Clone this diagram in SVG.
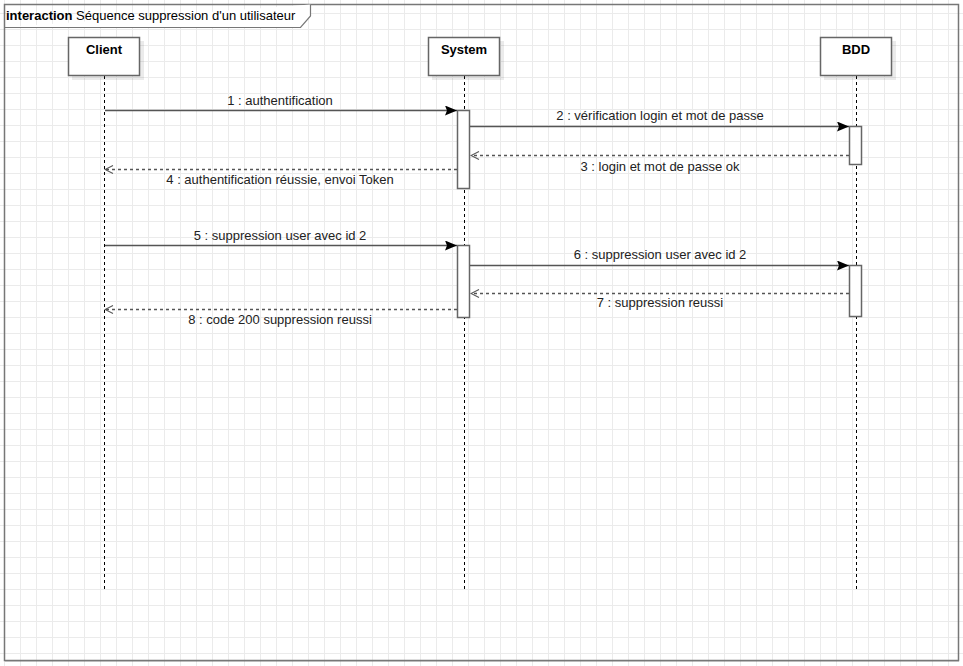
<svg xmlns="http://www.w3.org/2000/svg" width="963" height="666" viewBox="0 0 963 666">
  <style>
    .lbl { font-family: "Liberation Sans", Arial, sans-serif; font-size: 13px; fill: #222; text-anchor: middle; }
    .head { font-family: "Liberation Sans", Arial, sans-serif; font-size: 13px; font-weight: bold; fill: #000; text-anchor: middle; }
    .box { fill: #fff; stroke: #666; stroke-width: 1.5; }
    .shadow { fill: #000; opacity: 0.08; }
    .life { stroke: #000; stroke-width: 1; stroke-dasharray: 3 3; fill: none; }
    .act { fill: #fff; stroke: #666; stroke-width: 1.5; }
    .call { stroke: #555; stroke-width: 1.3; fill: none; marker-end: url(#solid); }
    .ret { stroke: #555; stroke-width: 1.3; stroke-dasharray: 3 3; fill: none; marker-end: url(#open); }
  </style>
  <defs>
    <pattern id="grid" patternUnits="userSpaceOnUse" x="4" y="13" width="16" height="16">
      <path d="M0.5 0 V16 M0 0.5 H16" stroke="#ebebeb" stroke-width="1" fill="none"/>
    </pattern>
    <marker id="solid" viewBox="0 0 12 10" refX="12" refY="5" markerWidth="12" markerHeight="10" markerUnits="userSpaceOnUse" orient="auto">
      <path d="M0 0 L12 5 L0 10 L2 5 Z" fill="#000"/>
    </marker>
    <marker id="open" viewBox="0 0 10 10" refX="9" refY="5" markerWidth="10" markerHeight="10" markerUnits="userSpaceOnUse" orient="auto">
      <path d="M1 1 L9 5 L1 9" fill="none" stroke="#555" stroke-width="1.1"/>
    </marker>
  </defs>

  <!-- background grid -->
  <rect width="963" height="666" fill="#fff"/>
  <rect width="963" height="666" fill="url(#grid)"/>

  <!-- interaction frame -->
  <g id="frame">
    <rect x="4.5" y="4.5" width="954" height="656" fill="none" stroke="#777" stroke-width="1.5"/>
    <line x1="5" y1="661.5" x2="959" y2="661.5" stroke="#000" stroke-opacity="0.15" stroke-width="1"/>
    <path d="M4.5 27.5 H300.5 L310.5 16 V4.5" fill="#fff" stroke="#777" stroke-width="1.2"/>
    <text x="6" y="20" font-family="Liberation Sans, Arial, sans-serif" font-size="13px" fill="#000"><tspan font-weight="bold">interaction</tspan> Séquence suppression d'un utilisateur</text>
  </g>

  <!-- lifelines -->
  <g id="lifeline-client">
    <line class="life" x1="104.5" y1="76" x2="104.5" y2="589"/>
    <rect class="shadow" x="72" y="41" width="72" height="39"/>
    <rect class="box" x="68.5" y="37.5" width="71" height="38"/>
    <text class="head" x="104" y="54">Client</text>
  </g>
  <g id="lifeline-system">
    <line class="life" x1="464.5" y1="76" x2="464.5" y2="589"/>
    <rect class="shadow" x="432" y="41" width="72" height="39"/>
    <rect class="box" x="428.5" y="37.5" width="71" height="38"/>
    <text class="head" x="464" y="54">System</text>
  </g>
  <g id="lifeline-bdd">
    <line class="life" x1="856.5" y1="76" x2="856.5" y2="589"/>
    <rect class="shadow" x="824" y="41" width="72" height="39"/>
    <rect class="box" x="820.5" y="37.5" width="71" height="38"/>
    <text class="head" x="856" y="54">BDD</text>
  </g>

  <!-- activation bars -->
  <g id="activations">
    <rect class="act" x="457.5" y="110.5" width="12" height="78"/>
    <rect class="act" x="849.5" y="126.5" width="12" height="38"/>
    <rect class="act" x="457.5" y="245.5" width="12" height="72"/>
    <rect class="act" x="849.5" y="265.5" width="12" height="51"/>
  </g>

  <!-- messages -->
  <g id="messages">
    <line class="call" x1="105" y1="110.5" x2="457" y2="110.5"/>
    <text class="lbl" x="280" y="105">1 : authentification</text>

    <line class="call" x1="470" y1="126.5" x2="849" y2="126.5"/>
    <text class="lbl" x="660" y="120">2 : vérification login et mot de passe</text>

    <line class="ret" x1="849" y1="155.5" x2="471" y2="155.5"/>
    <text class="lbl" x="660" y="171">3 : login et mot de passe ok</text>

    <line class="ret" x1="457" y1="169.5" x2="105" y2="169.5"/>
    <text class="lbl" x="280" y="184">4 : authentification réussie, envoi Token</text>

    <line class="call" x1="105" y1="245.5" x2="457" y2="245.5"/>
    <text class="lbl" x="280" y="240">5 : suppression user avec id 2</text>

    <line class="call" x1="470" y1="265.5" x2="849" y2="265.5"/>
    <text class="lbl" x="660" y="259">6 : suppression user avec id 2</text>

    <line class="ret" x1="849" y1="293.5" x2="471" y2="293.5"/>
    <text class="lbl" x="660" y="307">7 : suppression reussi</text>

    <line class="ret" x1="457" y1="309.5" x2="105" y2="309.5"/>
    <text class="lbl" x="280" y="324">8 : code 200 suppression reussi</text>
  </g>
</svg>
